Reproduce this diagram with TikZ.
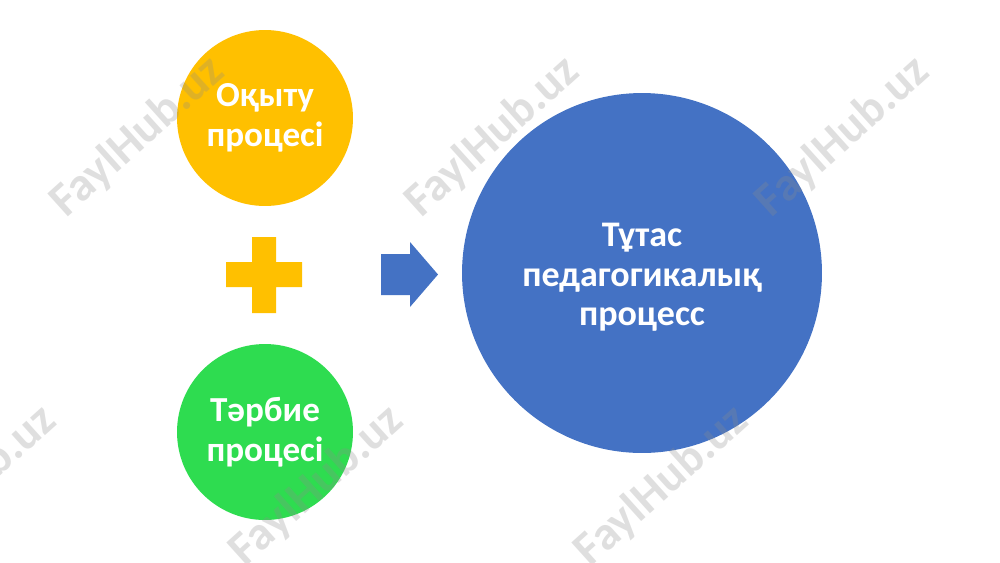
\documentclass[tikz,border=0pt]{standalone}
\usepackage{fontspec}
\setmainfont{Carlito}
\definecolor{oqyellow}{HTML}{FFC000}
\definecolor{tarbgreen}{HTML}{2EDC50}
\definecolor{tutblue}{HTML}{4472C4}
\definecolor{wmgray}{HTML}{8C8C8C}
\newcommand{\fhmark}[2]{\node[wmark] at (#1,#2) {FaylHub.uz}}

\begin{document}
\begin{tikzpicture}[x=0.02cm, y=-0.02cm,
    proc/.style={circle, inner sep=0pt, text=white, align=center,
        font=\bfseries\fontsize{20}{23}\selectfont},
    wmark/.style={rotate=42, text=wmgray, text opacity=0.27,
        font=\bfseries\fontsize{27}{27}\selectfont}]
                \useasboundingbox (0,0) rectangle (1000,562);
                \fill[white] (0,0) rectangle (1000,562);

                \node[proc, fill=oqyellow, minimum size=3.52cm] (oqytu) at (265,118) {Оқыту\\процесі};
                \node[proc, fill=tarbgreen, minimum size=3.52cm] (tarbie) at (265,432) {Тәрбие\\процесі};
                \node[proc, fill=tutblue, minimum size=7.2cm] (tutas) at (642,273) {};
                \node[proc, font=\bfseries\fontsize{20.5}{22.5}\selectfont] (tutastext)
                    at ([yshift=-0.9mm]tutas.center) {Тұтас\\педагогикалық\\процесс};

                \fill[oqyellow] (226,262) rectangle (302,287) (252,237) rectangle (276,313);
                \fill[tutblue] (381,254) -- (410,254) -- (410,242) -- (438,274.5)
                    -- (410,307) -- (410,295) -- (381,295) -- cycle;

                \fhmark{138}{137};
                \fhmark{493}{137};
                \fhmark{843}{137};
                \fhmark{-30}{486};
                \fhmark{317}{486};
                \fhmark{662}{486};
            \end{tikzpicture}
\end{document}
